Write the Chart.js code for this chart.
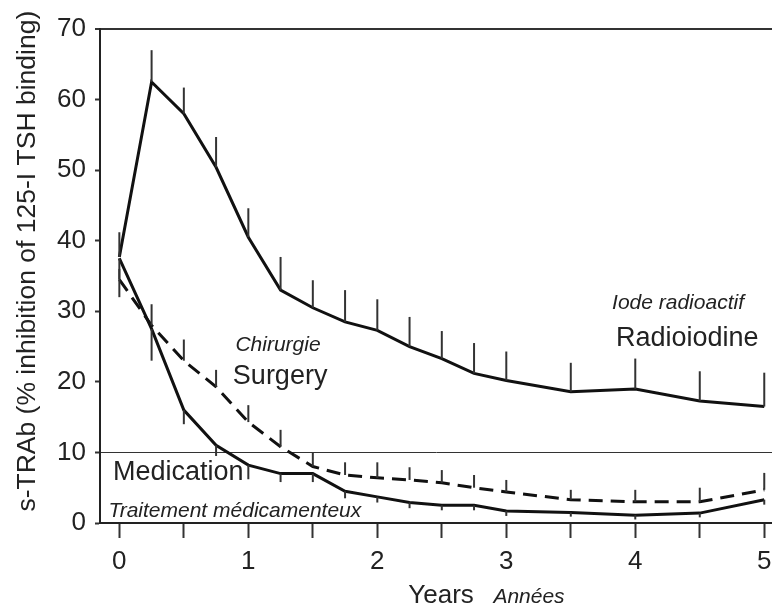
<!DOCTYPE html>
<html>
<head>
<meta charset="utf-8">
<script src="https://cdn.jsdelivr.net/npm/chart.js@4.4.1/dist/chart.umd.min.js"></script>
<style>
  html, body { margin: 0; padding: 0; background: #fff; }
  #wrap { width: 772px; height: 604px; position: relative; }
</style>
</head>
<body>
<div id="wrap"><canvas id="myChart"></canvas></div>
<script>
// values
const years = [0, 0.25, 0.5, 0.75, 1, 1.25, 1.5, 1.75, 2, 2.25, 2.5, 2.75, 3, 3.5, 4, 4.5, 5];

const radioiodine      = [37.7, 62.5, 58.0, 50.4, 40.5, 33.0, 30.5, 28.5, 27.3, 25.0, 23.3, 21.2, 20.2, 18.6, 19.0, 17.3, 16.5];
const radioiodineUpper = [41.2, 67.0, 61.7, 54.7, 44.6, 37.7, 34.4, 33.0, 31.7, 29.2, 27.2, 25.5, 24.3, 22.7, 23.3, 21.5, 21.3];

const surgery      = [34.5, 28.0, 23.0, 19.3, 14.3, 10.8, 8.0, 6.8, 6.4, 6.1, 5.7, 5.0, 4.4, 3.3, 3.0, 3.0, 4.7];
const surgeryUpper = [36.0, 31.0, 26.0, 21.7, 16.7, 13.2, 10.0, 8.6, 8.6, 7.9, 7.5, 6.8, 6.1, 4.7, 4.7, 5.0, 7.1];

const medication      = [37.5, 27.5, 16.0, 11.0, 8.2, 7.0, 7.0, 4.5, 3.7, 2.9, 2.5, 2.5, 1.7, 1.5, 1.1, 1.4, 3.3];
const medicationLower = [32.0, 23.0, 14.0, 9.5, 6.2, 5.8, 5.8, 3.5, 2.9, 2.1, 1.8, 1.8, 1.0, 0.9, 0.5, 0.8, 2.6];

const yearTicks = [0, 1, 2, 3, 4, 5];
const FONT = '"Liberation Sans", Arial, Helvetica, sans-serif';

const toPoints = vals => years.map((x, i) => ({ x: x, y: vals[i] }));

// error bars, drawn through the scales
const errorBars = {
  id: 'errorBars',
  afterDatasetsDraw(chart) {
    const { ctx, scales: { x, y } } = chart;
    const sets = [
      [radioiodine, radioiodineUpper],
      [surgery, surgeryUpper],
      [medication, medicationLower]
    ];
    ctx.save();
    ctx.strokeStyle = '#333';
    ctx.lineWidth = 2;
    sets.forEach(([mean, bound]) => {
      years.forEach((yr, i) => {
        const px = x.getPixelForValue(yr);
        ctx.beginPath();
        ctx.moveTo(px, y.getPixelForValue(mean[i]));
        ctx.lineTo(px, y.getPixelForValue(bound[i]));
        ctx.stroke();
      });
    });
    ctx.restore();
  }
};

// text labels in the plot and the axis titles
const labels = {
  id: 'labels',
  afterDraw(chart) {
    const { ctx, scales: { x, y }, chartArea } = chart;
    const put = (text, xv, yv, size, italic) => {
      ctx.font = (italic ? 'italic ' : '') + size + 'px ' + FONT;
      ctx.fillText(text, x.getPixelForValue(xv), y.getPixelForValue(yv));
    };
    ctx.save();
    ctx.fillStyle = '#222';
    ctx.textAlign = 'left';
    ctx.textBaseline = 'middle';
    put('Chirurgie', 0.90, 25.2, 21, true);
    put('Surgery', 0.88, 20.8, 27, false);
    put('Iode radioactif', 3.82, 31.2, 21, true);
    put('Radioiodine', 3.85, 26.1, 27, false);
    put('Medication', -0.05, 7.2, 27, false);
    put('Traitement médicamenteux', -0.085, 1.7, 21, true);

    // x title
    ctx.textBaseline = 'alphabetic';
    ctx.font = '26px ' + FONT;
    ctx.fillText('Years', x.getPixelForValue(2.24), 603);
    ctx.font = 'italic 21px ' + FONT;
    ctx.fillText('Années', x.getPixelForValue(2.9), 603);

    // y title
    ctx.translate(28, chartArea.top + (chartArea.bottom - chartArea.top) * 0.47);
    ctx.rotate(-Math.PI / 2);
    ctx.textAlign = 'center';
    ctx.textBaseline = 'middle';
    ctx.font = '26.5px ' + FONT;
    ctx.fillText('s-TRAb (% inhibition of 125-I TSH binding)', 0, 0);
    ctx.restore();
  }
};

const line = (vals, dash) => ({
  data: toPoints(vals),
  borderColor: '#111',
  borderWidth: 3,
  borderDash: dash,
  pointRadius: 0,
  tension: 0,
  fill: false
});

new Chart(document.getElementById('myChart'), {
  type: 'line',
  data: {
    datasets: [
      line(radioiodine, []),
      line(surgery, [14, 8]),
      line(medication, [])
    ]
  },
  options: {
    responsive: true,
    maintainAspectRatio: false,
    animation: false,
    layout: { padding: { top: 29, left: 0, right: 0, bottom: 0 } },
    plugins: { legend: { display: false }, tooltip: { enabled: false } },
    scales: {
      x: {
        type: 'linear',
        min: -0.15,
        max: 5.06,
        afterFit: s => { s.height = 81; s.paddingRight = 0; s.paddingLeft = 0; },
        ticks: {
          stepSize: 0.5,
          includeBounds: false,
          autoSkip: false,
          maxRotation: 0,
          padding: 8,
          color: '#222',
          font: { family: FONT, size: 26 },
          callback: v => (yearTicks.includes(v) ? String(v) : '')
        },
        grid: { drawOnChartArea: false, tickLength: 15, tickColor: '#333', tickWidth: 2 },
        border: { color: '#222', width: 2 }
      },
      y: {
        min: 0,
        max: 70,
        afterFit: s => { s.width = 100; },
        ticks: {
          stepSize: 10,
          padding: 9,
          color: '#222',
          font: { family: FONT, size: 26 }
        },
        grid: {
          color: c => (c.tick && (c.tick.value === 10 || c.tick.value === 70) ? '#333' : 'rgba(0,0,0,0)'),
          lineWidth: c => (c.tick && c.tick.value === 70 ? 2 : 1),
          tickColor: '#333',
          tickLength: 5,
          tickWidth: 2
        },
        border: { color: '#222', width: 2 }
      }
    }
  },
  plugins: [errorBars, labels]
});
</script>
</body>
</html>
